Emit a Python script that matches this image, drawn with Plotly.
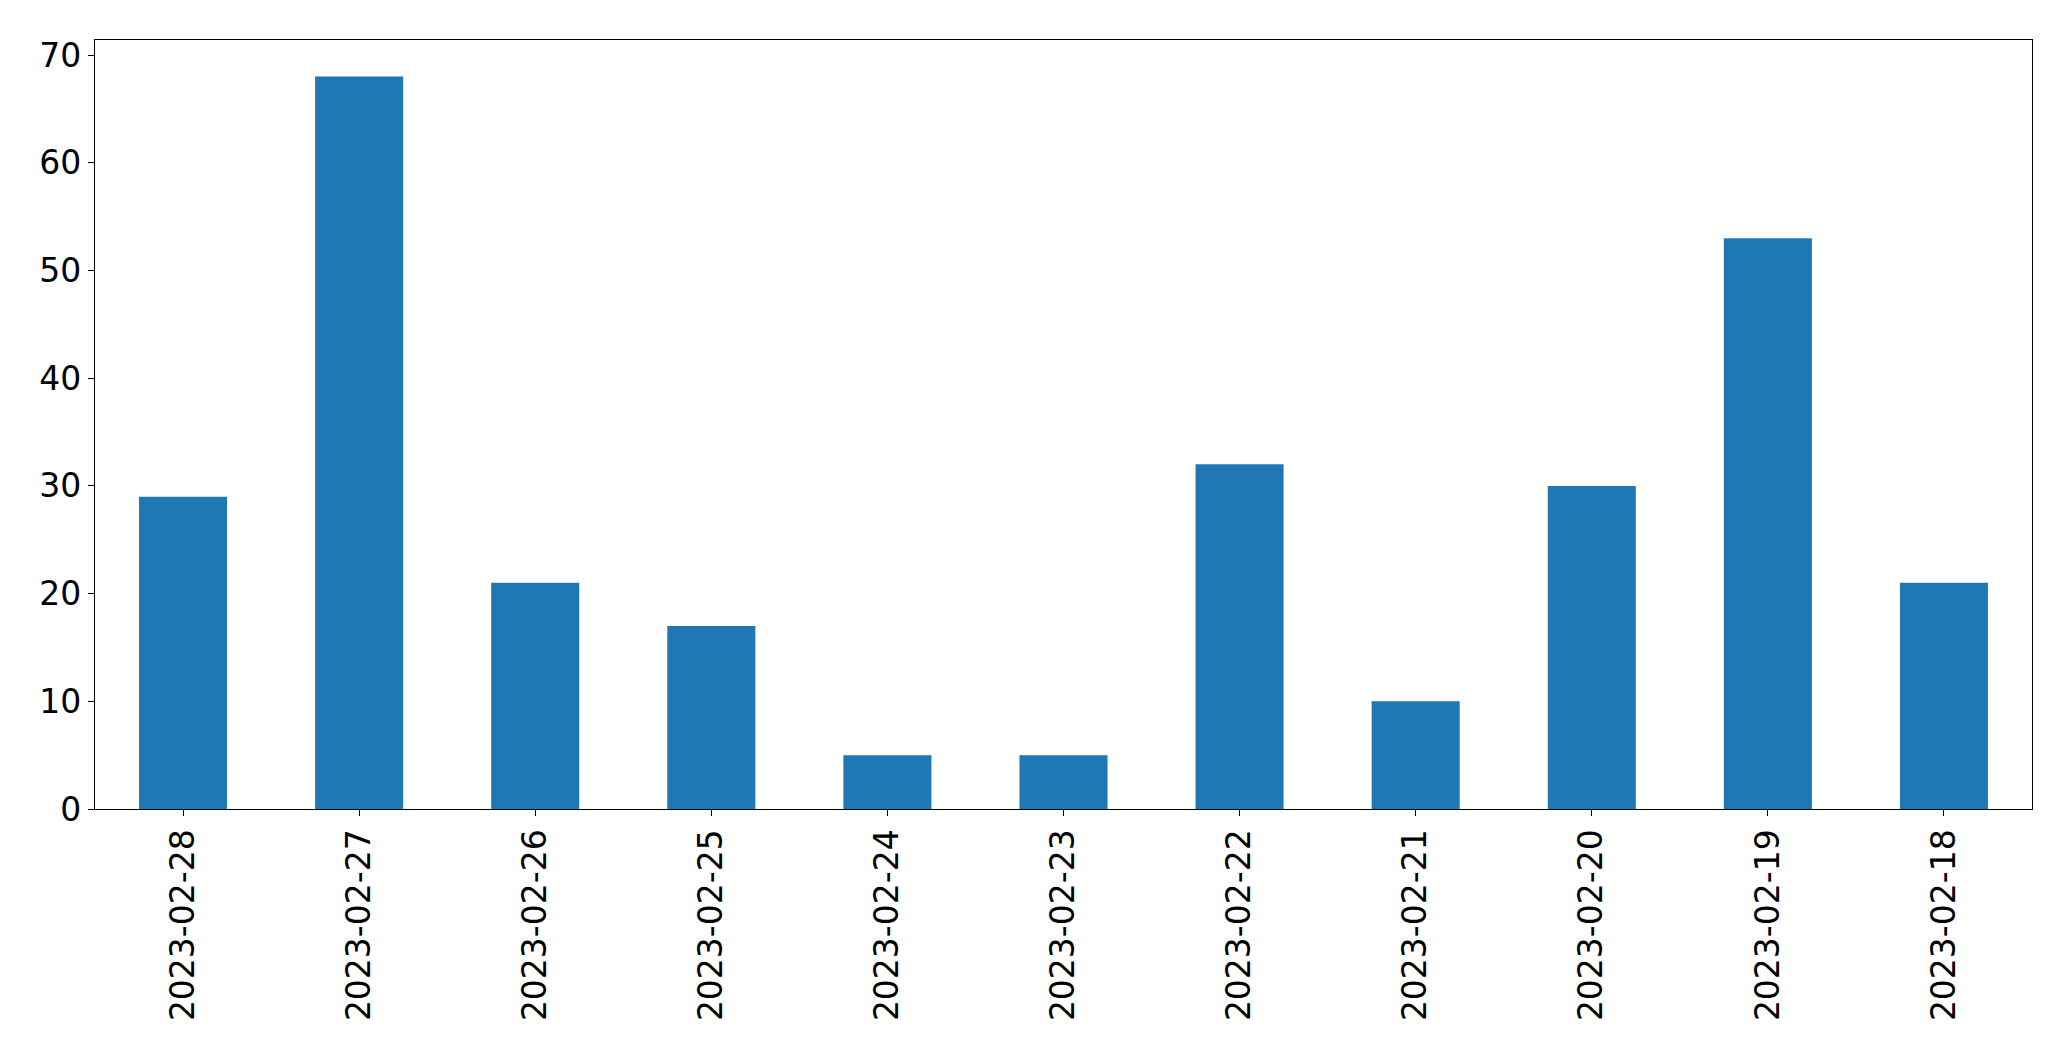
import plotly.graph_objects as go

dates = ["2023-02-28", "2023-02-27", "2023-02-26", "2023-02-25", "2023-02-24",
         "2023-02-23", "2023-02-22", "2023-02-21", "2023-02-20", "2023-02-19", "2023-02-18"]
counts = [29, 68, 21, 17, 5, 5, 32, 10, 30, 53, 21]
y_ticks = [0, 10, 20, 30, 40, 50, 60, 70]

fig = go.Figure(go.Bar(x=dates, y=counts, marker=dict(color="#1f77b4", line=dict(width=0)), width=0.5))

fig.update_layout(
    width=2055, height=1045,
    margin=dict(l=87, r=31, t=32, b=244),
    plot_bgcolor="white", paper_bgcolor="white",
    font=dict(family="DejaVu Sans", size=33, color="black"),
    showlegend=False,
)
fig.update_xaxes(type="category", range=[-0.5, len(dates) - 0.5], tickangle=-90,
                 showline=True, linecolor="black", linewidth=1.3, mirror=True,
                 ticks="outside", ticklen=6, tickwidth=1.3, tickcolor="black",
                 showgrid=False, zeroline=False)
fig.update_yaxes(range=[0, max(counts) * 1.05], tickvals=y_ticks,
                 showline=True, linecolor="black", linewidth=1.3, mirror=True,
                 ticks="outside", ticklen=6, tickwidth=1.3, tickcolor="black",
                 showgrid=False, zeroline=False)

fig.write_html("out.html")
